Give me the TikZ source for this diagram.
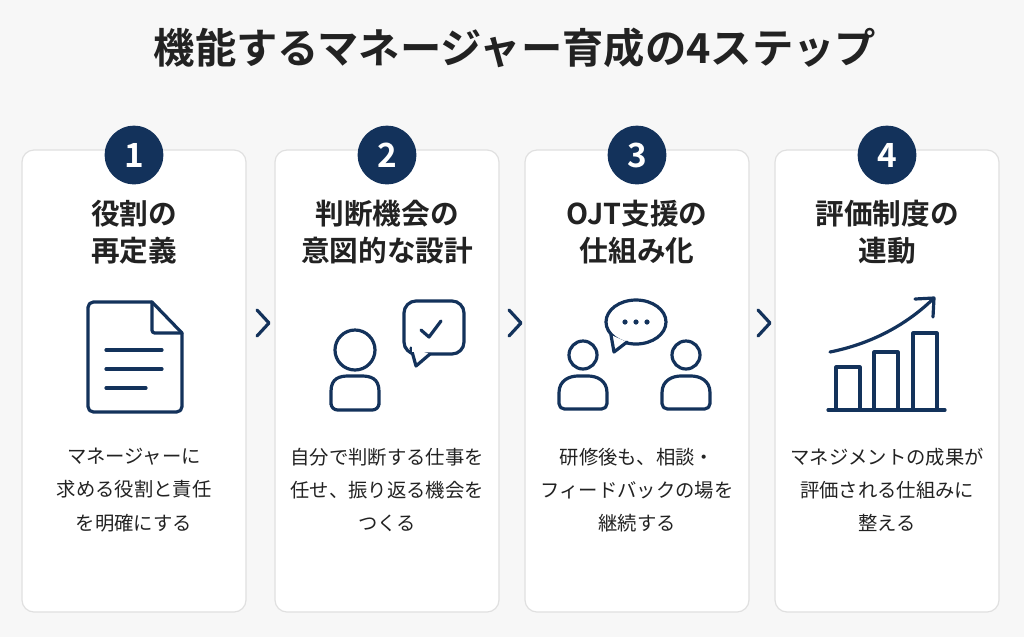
\documentclass[tikz,border=0pt]{standalone}
\usepackage{fontspec}
\setmainfont{Noto Sans CJK JP}
\newfontfamily\jpb{Noto Sans CJK JP Bold}
\usetikzlibrary{arrows.meta}
\definecolor{navy}{HTML}{13325B}
\definecolor{ink}{HTML}{222222}
\begin{document}
\begin{tikzpicture}[x=0.75pt,y=-0.75pt,
  card/.style={draw=black!12,line width=0.9pt,rounded corners=9pt,fill=white},
  num/.style={circle,fill=navy,minimum size=44pt,inner sep=0pt,text=white,font=\jpb\fontsize{25}{25}\selectfont},
  head/.style={align=center,text=ink,font=\jpb\fontsize{21.5}{28}\selectfont},
  body/.style={align=center,text=ink,font=\fontsize{14.5}{25}\selectfont},
  ic/.style={draw=navy,line width=2.4pt,line cap=round,line join=round},
  chev/.style={draw=navy,line width=2.4pt,line cap=round,line join=round}]
\useasboundingbox[fill=white!97!black] (0,0) rectangle (1024,637);
\node[text=ink,font=\jpb\fontsize{31}{31}\selectfont] (title) at (515,48) {機能するマネージャー育成の4ステップ};
\foreach \cx/\n in {134/1,387/2,637/3,887/4}{
  \draw[card] (\cx-112,150) rectangle (\cx+112,612);
  \node[num] (n\n) at (\cx,155) {\n};
}
\node[head] (h1) at (134,232) {役割の\\再定義};
\node[head] (h2) at (387,232) {判断機会の\\意図的な設計};
\node[head] (h3) at (637,232) {OJT支援の\\仕組み化};
\node[head] (h4) at (887,232) {評価制度の\\連動};
\node[body] (b1) at (134,490) {マネージャーに\\求める役割と責任\\を明確にする};
\node[body] (b2) at (387,490) {自分で判断する仕事を\\任せ、振り返る機会を\\つくる};
\node[body] (b3) at (637,490) {研修後も、相談・\\フィードバックの場を\\継続する};
\node[body] (b4) at (887,490) {マネジメントの成果が\\評価される仕組みに\\整える};
\foreach \x in {262,514,763}{
  \draw[chev] (\x-5,310) -- (\x+7,323) -- (\x-5,336);
}
% doc
\draw[ic,rounded corners=4pt] (152,302) -- (88,302) -- (88,412) -- (182,412) -- (182,333);
\draw[ic] (152,302) -- (182,333);
\draw[ic,rounded corners=2pt] (152,302) -- (152,333) -- (182,333);
\draw[ic] (106,350) -- (162,350) (106,369) -- (162,369) (106,388) -- (146,388);
% card2
\draw[ic] (355,350) circle[radius=20];
\draw[ic,rounded corners=5pt] (331,410) -- (331,398) .. controls (331,378) and (340,376) .. (355,376) .. controls (370,376) and (379,378) .. (379,398) -- (379,410) -- cycle;
\draw[ic,rounded corners=9pt] (404,301) rectangle (464,354);
\draw[ic,fill=white] (411,348) -- (416,366) -- (430,354);
\draw[ic,draw=none,fill=white] (412,345) rectangle (432,351.5);
\draw[ic] (421,330) -- (429,337) -- (441,321);
% card3
\draw[ic] (583,355) circle[radius=14];
\draw[ic] (686,355) circle[radius=14];
\draw[ic,rounded corners=4pt] (559,409) -- (559,398) .. controls (559,380) and (570,376) .. (583,376) .. controls (596,376) and (607,380) .. (607,398) -- (607,409) -- cycle;
\draw[ic,rounded corners=4pt] (662,409) -- (662,398) .. controls (662,380) and (673,376) .. (686,376) .. controls (699,376) and (710,380) .. (710,398) -- (710,409) -- cycle;
\draw[ic] (636,322) ellipse[x radius=30,y radius=22];
\draw[ic,fill=white] (611,335) -- (614,352) -- (627,342);
\draw[draw=none,fill=white] (613,333) -- (625,341) -- (622,336) -- cycle;
\fill[navy] (625,322) circle[radius=2.6] (636,322) circle[radius=2.6] (647,322) circle[radius=2.6];
% card4
\draw[ic] (828,410) -- (945,410);
\draw[ic] (836,410) -- (836,367) -- (860,367) -- (860,410);
\draw[ic] (874,410) -- (874,352) -- (898,352) -- (898,410);
\draw[ic] (913,410) -- (913,333) -- (937,333) -- (937,410);
\draw[ic] (830,352) .. controls (870,344) and (905,326) .. (933,299);
\draw[ic] (915,299) -- (934,298) -- (933,317);
\end{tikzpicture}
\end{document}
